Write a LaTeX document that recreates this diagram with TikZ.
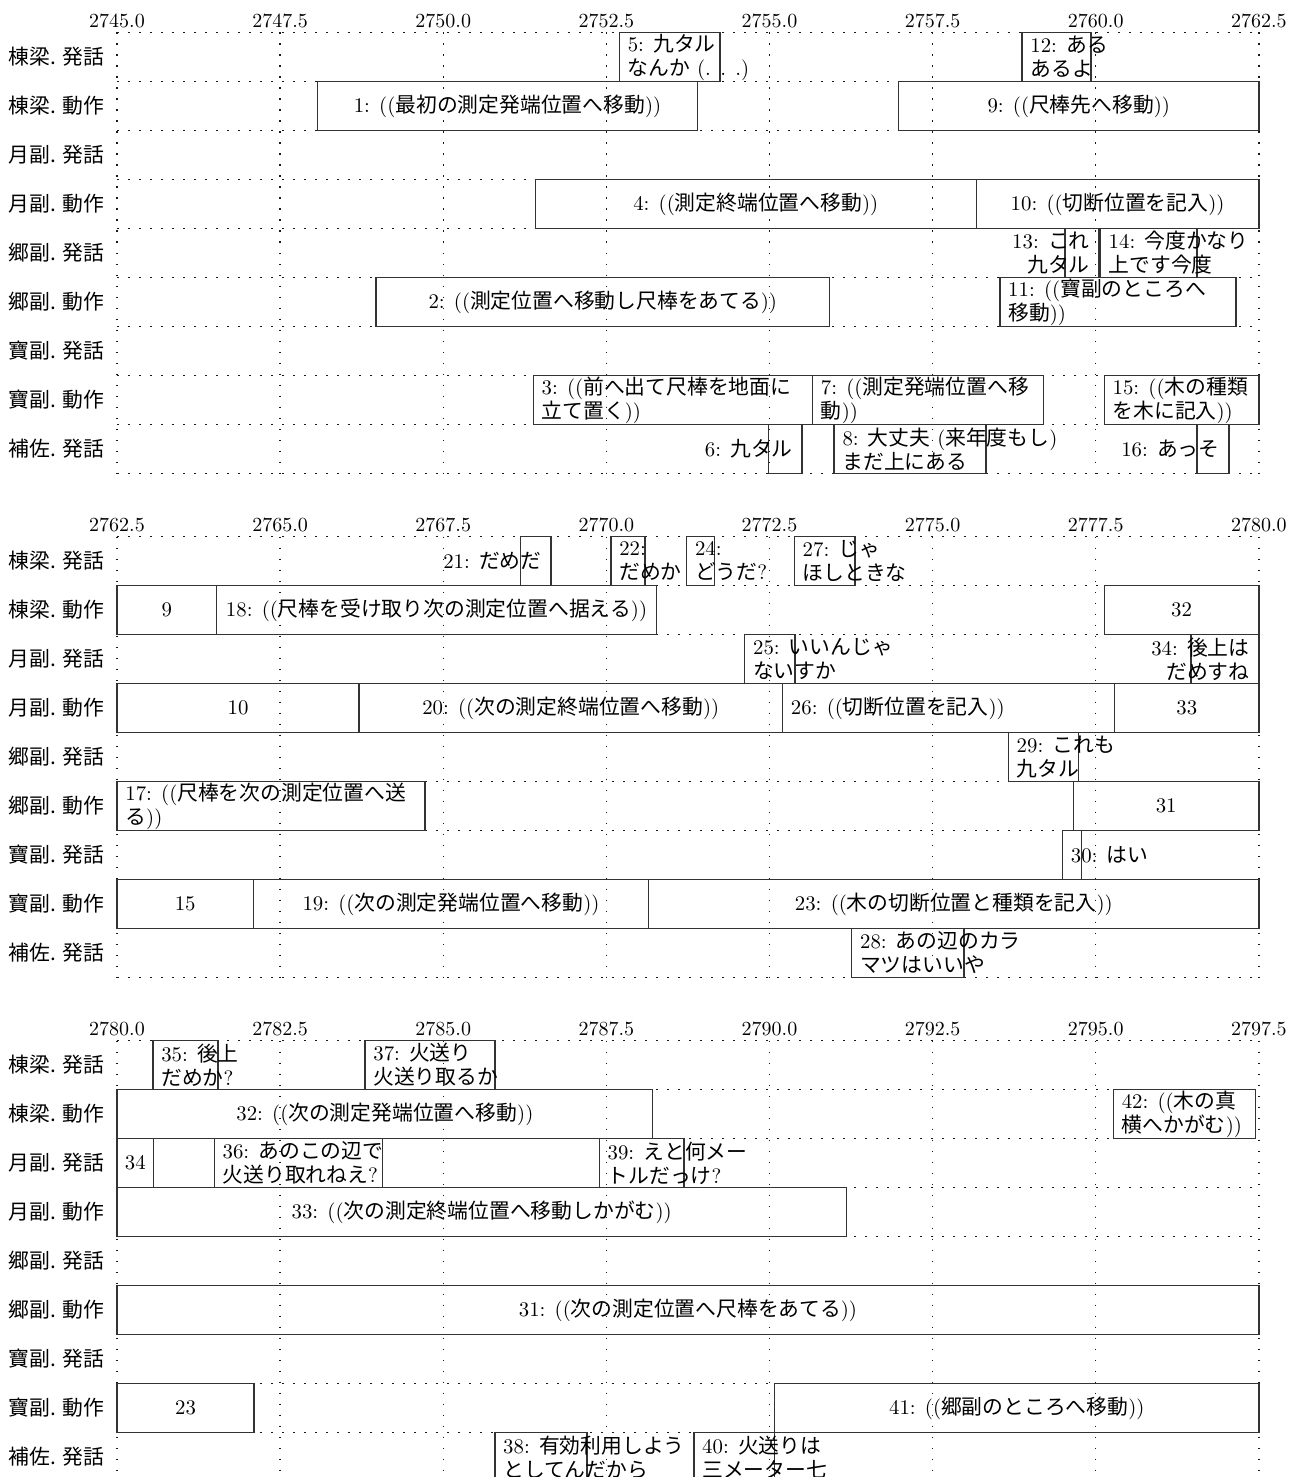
\documentclass[tikz,border=0pt]{standalone}
\usepackage{fontspec}
\usepackage{tikz}
\newfontfamily\jpfont{Noto Sans CJK JP}

% CJK characters switch to the Japanese font by themselves
\XeTeXinterchartokenstate=1
\newXeTeXintercharclass\jpclass
\newcount\jpcode
\newcommand{\jprange}[2]{%
  \jpcode=#1
  \loop
    \XeTeXcharclass\jpcode=\jpclass
    \ifnum\jpcode<#2 \advance\jpcode by 1
  \repeat}
\jprange{"3000}{"30FF}
\jprange{"4E00}{"9FFF}
\jprange{"FF00}{"FFEF}
\XeTeXinterchartoks 0 \jpclass = {\begingroup\jpfont}
\XeTeXinterchartoks 4095 \jpclass = {\begingroup\jpfont}
\XeTeXinterchartoks \jpclass 0 = {\endgroup}
\XeTeXinterchartoks \jpclass 4095 = {\endgroup}

% name, row, start, end, text anchor, text
\newcommand{\turn}[6]{%
  \node[turnbox, minimum width={(#4-#3)*32.625pt}] (#1) at (#3,#2-1) {};
  \node[turntext, tx #5] (#1-t) at (#1.#5) {#6};}

\begin{document}
\begin{tikzpicture}[x=32.625pt, y=-24.5pt,
    gridline/.style={black!90, line width=0.65pt, dash pattern=on 0.9pt off 4.6pt},
    ticklabel/.style={anchor=base, inner sep=0pt, yshift=2.3pt, font=\fontsize{10.4}{12}\selectfont},
    rowlabel/.style={anchor=east, inner sep=0pt, xshift=-6.3pt, font=\jpfont\fontsize{10.4}{12}\selectfont},
    turnbox/.style={draw=black!80, line width=0.7pt, minimum height=24.5pt, inner sep=0pt, outer sep=0pt, anchor=north west},
    turntext/.style={inner sep=0pt, font=\fontsize{10.4}{12}\selectfont},
    tx center/.style={anchor=center},
    tx west/.style={anchor=west, align=left, xshift=4pt},
    tx east/.style={anchor=east, align=right, xshift=-4.5pt}]
    \useasboundingbox (-58.5pt,16.25pt) rectangle (586.5pt,-722.25pt);

    % grid, time axis and row labels of the three panels
    \foreach \p/\tstart in {0/2745, 1/2762.5, 2/2780} {
            \begin{scope}[yshift={-\p*252pt}]
                \foreach \k in {0,...,7} {
                        \draw[gridline] (2.5*\k,0) -- (2.5*\k,9);
                        \pgfmathsetmacro{\tval}{\tstart+2.5*\k}
                        \node[ticklabel] (tick\p-\k) at (2.5*\k,0) {\pgfmathprintnumber[fixed, fixed zerofill, precision=1, 1000 sep={}]{\tval}};
                    }
                \foreach \r in {0,...,9}
                \draw[gridline] (0,\r) -- (17.5,\r);
                \foreach \lab [count=\r] in {棟梁. 発話, 棟梁. 動作, 月副. 発話, 月副. 動作, 郷副. 発話, 郷副. 動作, 寶副. 発話, 寶副. 動作, 補佐. 発話}
                \node[rowlabel] (lab\p-\r) at (0,\r-0.5) {\lab};
            \end{scope}
        }

    % 2745.0 -- 2762.5
    \begin{scope}
        \turn{a5}{1}{7.70}{9.24}{west}{5: 九タル\\なんか (. . .)}
        \turn{a12}{1}{13.87}{14.93}{west}{12: ある\\あるよ}
        \turn{a1}{2}{3.07}{8.90}{center}{1: ((最初の測定発端位置へ移動))}
        \turn{a9}{2}{11.98}{17.5}{center}{9: ((尺棒先へ移動))}
        \turn{a4}{4}{6.41}{13.17}{center}{4: ((測定終端位置へ移動))}
        \turn{a10}{4}{13.17}{17.5}{center}{10: ((切断位置を記入))}
        \turn{a13}{5}{14.53}{15.05}{east}{13: これ\\九タル}
        \turn{a14}{5}{15.07}{16.55}{west}{14: 今度かなり\\上です今度}
        \turn{a2}{6}{3.97}{10.92}{center}{2: ((測定位置へ移動し尺棒をあてる))}
        \turn{a11}{6}{13.53}{17.15}{west}{11: ((寶副のところへ\\移動))}
        \turn{a3}{8}{6.38}{10.66}{west}{3: ((前へ出て尺棒を地面に\\立て置く))}
        \turn{a7}{8}{10.66}{14.20}{west}{7: ((測定発端位置へ移\\動))}
        \turn{a15}{8}{15.13}{17.5}{west}{15: ((木の種類\\を木に記入))}
        \turn{a6}{9}{9.98}{10.50}{east}{6: 九タル}
        \turn{a8}{9}{10.99}{13.32}{west}{8: 大丈夫 (来年度もし)\\まだ上にある}
        \turn{a16}{9}{16.55}{17.04}{east}{16: あっそ}
    \end{scope}

    % 2762.5 -- 2780.0
    \begin{scope}[yshift=-252pt]
        \turn{b21}{1}{6.18}{6.65}{east}{21: だめだ}
        \turn{b22}{1}{7.57}{8.09}{west}{22:\\だめか}
        \turn{b24}{1}{8.73}{9.16}{west}{24:\\どうだ?}
        \turn{b27}{1}{10.38}{11.31}{west}{27: じゃ\\ほしときな}
        \turn{b9}{2}{0}{1.525}{center}{9}
        \turn{b18}{2}{1.525}{8.27}{center}{18: ((尺棒を受け取り次の測定位置へ据える))}
        \turn{b32}{2}{15.13}{17.5}{center}{32}
        \turn{b25}{3}{9.62}{10.39}{west}{25: いいんじゃ\\ないすか}
        \turn{b34}{3}{16.46}{17.5}{east}{34: 後上は\\だめすね}
        \turn{b10}{4}{0}{3.71}{center}{10}
        \turn{b20}{4}{3.71}{10.20}{center}{20: ((次の測定終端位置へ移動))}
        \turn{b26}{4}{10.20}{15.29}{west}{26: ((切断位置を記入))}
        \turn{b33}{4}{15.29}{17.5}{center}{33}
        \turn{b29}{5}{13.66}{14.74}{west}{29: これも\\九タル}
        \turn{b17}{6}{0}{4.72}{west}{17: ((尺棒を次の測定位置へ送\\る))}
        \turn{b31}{6}{14.66}{17.5}{center}{31}
        \turn{b30}{7}{14.49}{14.78}{west}{30: はい}
        \turn{b15}{8}{0}{2.09}{center}{15}
        \turn{b19}{8}{2.09}{8.15}{center}{19: ((次の測定発端位置へ移動))}
        \turn{b23}{8}{8.15}{17.5}{center}{23: ((木の切断位置と種類を記入))}
        \turn{b28}{9}{11.26}{12.98}{west}{28: あの辺のカラ\\マツはいいや}
    \end{scope}

    % 2780.0 -- 2797.5
    \begin{scope}[yshift=-504pt]
        \turn{c35}{1}{0.55}{1.55}{west}{35: 後上\\だめか?}
        \turn{c37}{1}{3.80}{5.79}{west}{37: 火送り\\火送り取るか}
        \turn{c32}{2}{0}{8.21}{center}{32: ((次の測定発端位置へ移動))}
        \turn{c42}{2}{15.27}{17.45}{west}{42: ((木の真\\横へかがむ))}
        \turn{c34}{3}{0}{0.56}{center}{34}
        \turn{c36}{3}{1.49}{4.07}{west}{36: あのこの辺で\\火送り取れねえ?}
        \turn{c39}{3}{7.39}{8.69}{west}{39: えと何メー\\トルだっけ?}
        \turn{c33}{4}{0}{11.18}{center}{33: ((次の測定終端位置へ移動しかがむ))}
        \turn{c31}{6}{0}{17.5}{center}{31: ((次の測定位置へ尺棒をあてる))}
        \turn{c23}{8}{0}{2.10}{center}{23}
        \turn{c41}{8}{10.08}{17.5}{center}{41: ((郷副のところへ移動))}
        \turn{c38}{9}{5.79}{7.20}{west}{38: 有効利用しよう\\としてんだから}
        \turn{c40}{9}{8.84}{10.08}{west}{40: 火送りは\\三メーター七}
    \end{scope}
\end{tikzpicture}
\end{document}
